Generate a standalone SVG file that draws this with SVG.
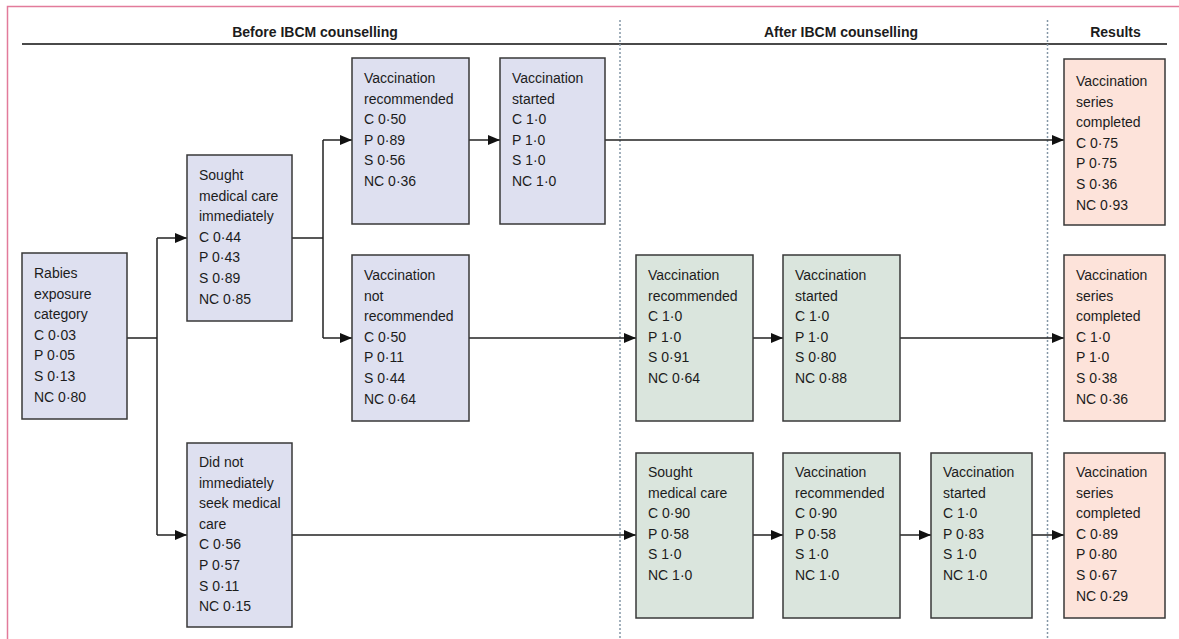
<svg xmlns="http://www.w3.org/2000/svg" width="1179" height="639" viewBox="0 0 1179 639">
<style>
.box{stroke:#383838;stroke-width:1.5}
.b{fill:#dee0f0}
.g{fill:#dae5dd}
.p{fill:#fde3da}
.t{font-family:"Liberation Sans",Arial,sans-serif;font-size:14px;fill:#1c1c1c}
.h{font-family:"Liberation Sans",Arial,sans-serif;font-size:14px;font-weight:bold;fill:#1c1c1c;text-anchor:middle}
.c{fill:none;stroke:#222;stroke-width:1.5}
.d{fill:none;stroke:#8496a6;stroke-width:1.5;stroke-dasharray:2 2}
</style>
<defs>
<marker id="ah" markerUnits="userSpaceOnUse" markerWidth="12" markerHeight="10" refX="12" refY="5" orient="auto">
<path d="M0,0 L12,5 L0,10 z" fill="#111"/>
</marker>
</defs>
<rect width="1179" height="639" fill="#fff"/>
<path d="M7.5,639 V6.5 H1179" fill="none" stroke="#e27b9b" stroke-width="1.5"/>
<g id="header">
<text class="h" x="315" y="36.5">Before IBCM counselling</text>
<text class="h" x="841" y="36.5">After IBCM counselling</text>
<text class="h" x="1115.5" y="36.5">Results</text>
<line x1="22" y1="44" x2="1167" y2="44" stroke="#4a4a4a" stroke-width="2"/>
<line class="d" x1="620" y1="20" x2="620" y2="639"/>
<line class="d" x1="1047.5" y1="20" x2="1047.5" y2="639"/>
</g>
<g id="connectors">
<path class="c" d="M127,338 H157 M157,238 V535"/>
<path class="c" d="M157,238 H187" marker-end="url(#ah)"/>
<path class="c" d="M157,535 H187" marker-end="url(#ah)"/>
<path class="c" d="M292,238 H323 M323,140 V338"/>
<path class="c" d="M323,140 H352" marker-end="url(#ah)"/>
<path class="c" d="M323,338 H352" marker-end="url(#ah)"/>
<path class="c" d="M469,140 H500" marker-end="url(#ah)"/>
<path class="c" d="M605,140 H1064" marker-end="url(#ah)"/>
<path class="c" d="M469,338 H636" marker-end="url(#ah)"/>
<path class="c" d="M753,338 H783" marker-end="url(#ah)"/>
<path class="c" d="M900,338 H1064" marker-end="url(#ah)"/>
<path class="c" d="M292,535 H636" marker-end="url(#ah)"/>
<path class="c" d="M753,535 H783" marker-end="url(#ah)"/>
<path class="c" d="M900,535 H931" marker-end="url(#ah)"/>
<path class="c" d="M1032,535 H1064" marker-end="url(#ah)"/>
</g>
<g id="rabies">
<rect class="box b" x="22" y="253" width="105" height="166"/>
<text class="t" x="34" y="278"><tspan x="34">Rabies</tspan><tspan x="34" dy="20.6">exposure</tspan><tspan x="34" dy="20.6">category</tspan><tspan x="34" dy="20.6">C 0·03</tspan><tspan x="34" dy="20.6">P 0·05</tspan><tspan x="34" dy="20.6">S 0·13</tspan><tspan x="34" dy="20.6">NC 0·80</tspan></text>
</g>
<g id="sought-immediately">
<rect class="box b" x="187" y="155" width="105" height="166"/>
<text class="t" x="199" y="180"><tspan x="199">Sought</tspan><tspan x="199" dy="20.6">medical care</tspan><tspan x="199" dy="20.6">immediately</tspan><tspan x="199" dy="20.6">C 0·44</tspan><tspan x="199" dy="20.6">P 0·43</tspan><tspan x="199" dy="20.6">S 0·89</tspan><tspan x="199" dy="20.6">NC 0·85</tspan></text>
</g>
<g id="did-not-seek">
<rect class="box b" x="187" y="443" width="105" height="184"/>
<text class="t" x="199" y="467"><tspan x="199">Did not</tspan><tspan x="199" dy="20.6">immediately</tspan><tspan x="199" dy="20.6">seek medical</tspan><tspan x="199" dy="20.6">care</tspan><tspan x="199" dy="20.6">C 0·56</tspan><tspan x="199" dy="20.6">P 0·57</tspan><tspan x="199" dy="20.6">S 0·11</tspan><tspan x="199" dy="20.6">NC 0·15</tspan></text>
</g>
<g id="vacc-recommended-before">
<rect class="box b" x="352" y="58" width="117" height="166"/>
<text class="t" x="364" y="83"><tspan x="364">Vaccination</tspan><tspan x="364" dy="20.6">recommended</tspan><tspan x="364" dy="20.6">C 0·50</tspan><tspan x="364" dy="20.6">P 0·89</tspan><tspan x="364" dy="20.6">S 0·56</tspan><tspan x="364" dy="20.6">NC 0·36</tspan></text>
</g>
<g id="vacc-started-before">
<rect class="box b" x="500" y="58" width="105" height="166"/>
<text class="t" x="512" y="83"><tspan x="512">Vaccination</tspan><tspan x="512" dy="20.6">started</tspan><tspan x="512" dy="20.6">C 1·0</tspan><tspan x="512" dy="20.6">P 1·0</tspan><tspan x="512" dy="20.6">S 1·0</tspan><tspan x="512" dy="20.6">NC 1·0</tspan></text>
</g>
<g id="vacc-not-recommended">
<rect class="box b" x="352" y="255" width="117" height="166"/>
<text class="t" x="364" y="280"><tspan x="364">Vaccination</tspan><tspan x="364" dy="20.6">not</tspan><tspan x="364" dy="20.6">recommended</tspan><tspan x="364" dy="20.6">C 0·50</tspan><tspan x="364" dy="20.6">P 0·11</tspan><tspan x="364" dy="20.6">S 0·44</tspan><tspan x="364" dy="20.6">NC 0·64</tspan></text>
</g>
<g id="vacc-recommended-after-mid">
<rect class="box g" x="636" y="255" width="117" height="166"/>
<text class="t" x="648" y="280"><tspan x="648">Vaccination</tspan><tspan x="648" dy="20.6">recommended</tspan><tspan x="648" dy="20.6">C 1·0</tspan><tspan x="648" dy="20.6">P 1·0</tspan><tspan x="648" dy="20.6">S 0·91</tspan><tspan x="648" dy="20.6">NC 0·64</tspan></text>
</g>
<g id="vacc-started-after-mid">
<rect class="box g" x="783" y="255" width="117" height="166"/>
<text class="t" x="795" y="280"><tspan x="795">Vaccination</tspan><tspan x="795" dy="20.6">started</tspan><tspan x="795" dy="20.6">C 1·0</tspan><tspan x="795" dy="20.6">P 1·0</tspan><tspan x="795" dy="20.6">S 0·80</tspan><tspan x="795" dy="20.6">NC 0·88</tspan></text>
</g>
<g id="sought-after">
<rect class="box g" x="636" y="453" width="117" height="165"/>
<text class="t" x="648" y="477"><tspan x="648">Sought</tspan><tspan x="648" dy="20.6">medical care</tspan><tspan x="648" dy="20.6">C 0·90</tspan><tspan x="648" dy="20.6">P 0·58</tspan><tspan x="648" dy="20.6">S 1·0</tspan><tspan x="648" dy="20.6">NC 1·0</tspan></text>
</g>
<g id="vacc-recommended-after-bot">
<rect class="box g" x="783" y="453" width="117" height="165"/>
<text class="t" x="795" y="477"><tspan x="795">Vaccination</tspan><tspan x="795" dy="20.6">recommended</tspan><tspan x="795" dy="20.6">C 0·90</tspan><tspan x="795" dy="20.6">P 0·58</tspan><tspan x="795" dy="20.6">S 1·0</tspan><tspan x="795" dy="20.6">NC 1·0</tspan></text>
</g>
<g id="vacc-started-after-bot">
<rect class="box g" x="931" y="453" width="101" height="165"/>
<text class="t" x="943" y="477"><tspan x="943">Vaccination</tspan><tspan x="943" dy="20.6">started</tspan><tspan x="943" dy="20.6">C 1·0</tspan><tspan x="943" dy="20.6">P 0·83</tspan><tspan x="943" dy="20.6">S 1·0</tspan><tspan x="943" dy="20.6">NC 1·0</tspan></text>
</g>
<g id="result-top">
<rect class="box p" x="1064" y="59" width="101" height="166"/>
<text class="t" x="1076" y="86"><tspan x="1076">Vaccination</tspan><tspan x="1076" dy="20.6">series</tspan><tspan x="1076" dy="20.6">completed</tspan><tspan x="1076" dy="20.6">C 0·75</tspan><tspan x="1076" dy="20.6">P 0·75</tspan><tspan x="1076" dy="20.6">S 0·36</tspan><tspan x="1076" dy="20.6">NC 0·93</tspan></text>
</g>
<g id="result-mid">
<rect class="box p" x="1064" y="255" width="101" height="166"/>
<text class="t" x="1076" y="280"><tspan x="1076">Vaccination</tspan><tspan x="1076" dy="20.6">series</tspan><tspan x="1076" dy="20.6">completed</tspan><tspan x="1076" dy="20.6">C 1·0</tspan><tspan x="1076" dy="20.6">P 1·0</tspan><tspan x="1076" dy="20.6">S 0·38</tspan><tspan x="1076" dy="20.6">NC 0·36</tspan></text>
</g>
<g id="result-bot">
<rect class="box p" x="1064" y="453" width="101" height="165"/>
<text class="t" x="1076" y="477"><tspan x="1076">Vaccination</tspan><tspan x="1076" dy="20.6">series</tspan><tspan x="1076" dy="20.6">completed</tspan><tspan x="1076" dy="20.6">C 0·89</tspan><tspan x="1076" dy="20.6">P 0·80</tspan><tspan x="1076" dy="20.6">S 0·67</tspan><tspan x="1076" dy="20.6">NC 0·29</tspan></text>
</g>
</svg>
